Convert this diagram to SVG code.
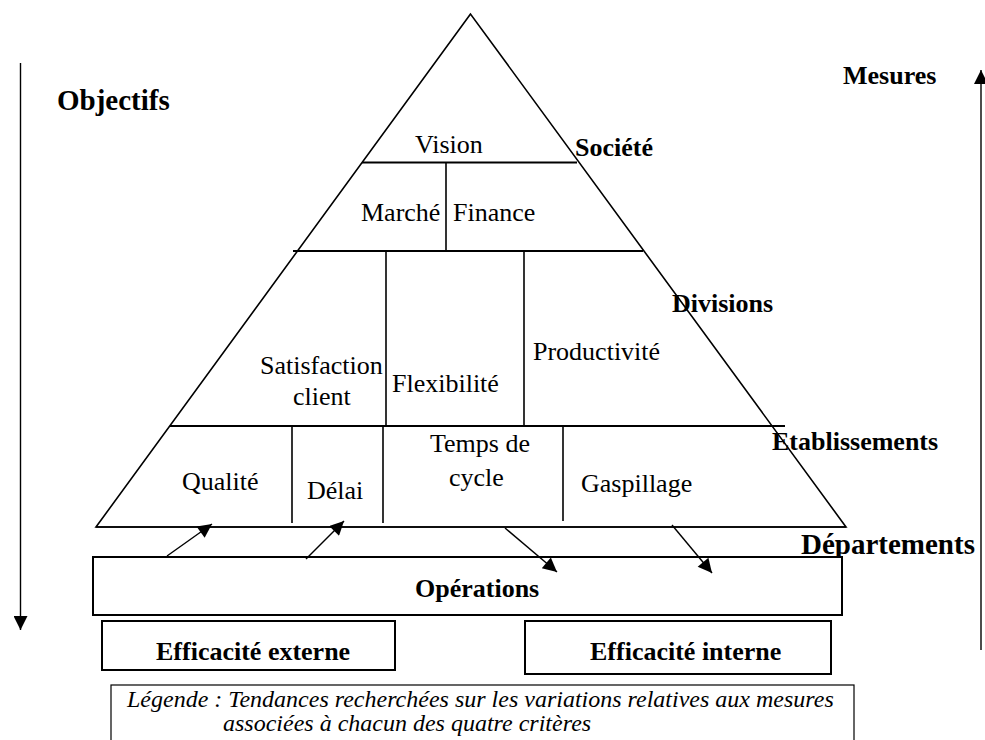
<svg xmlns="http://www.w3.org/2000/svg" width="985" height="740" viewBox="0 0 985 740">
<defs>
<style>
.ln{stroke:#000;stroke-width:1.6;fill:none}
.dv{stroke:#000;stroke-width:2;fill:none}
.bx{stroke:#000;stroke-width:2;fill:#fff}
text{font-family:'Liberation Serif','Times New Roman','DejaVu Serif',serif;fill:#000}
.t{font-size:26px}
.b{font-size:26px;font-weight:bold}
.i{font-size:24px;font-style:italic}
.ar{stroke:#000;stroke-width:1.4;fill:none}
</style>
<marker id="ah" viewBox="0 0 10 10" refX="10" refY="5" markerWidth="17" markerHeight="14" markerUnits="userSpaceOnUse" orient="auto">
<path d="M0,0 L10,5 L0,10 z" fill="#000"/>
</marker>
<marker id="ahb" viewBox="0 0 10 10" refX="10" refY="5" markerWidth="17" markerHeight="14" markerUnits="userSpaceOnUse" orient="auto">
<path d="M0,0 L10,5 L0,10 z" fill="#000"/>
</marker>
</defs>
<rect width="985" height="740" fill="#fff"/>

<g id="pyramid">
<polygon class="ln" points="470.5,14 96,527 846,527"/>
<line class="dv" x1="362" y1="162.5" x2="577" y2="162.5"/>
<line class="dv" x1="293" y1="251" x2="643" y2="251"/>
<line class="dv" x1="170" y1="426" x2="785" y2="426"/>
<line class="ln" x1="96" y1="527" x2="846" y2="527"/>
</g>

<g id="vision"><text class="t" x="415" y="153">Vision</text></g>
<g id="marche"><line class="ln" x1="446" y1="162.5" x2="446" y2="251"/><text class="t" x="361" y="221">Marché</text></g>
<g id="finance"><text class="t" x="453" y="221">Finance</text></g>
<g id="satisfaction"><text class="t" x="260" y="374">Satisfaction</text><text class="t" x="293" y="405">client</text></g>
<g id="flexibilite"><line class="ln" x1="386" y1="251" x2="386" y2="426"/><text class="t" x="392" y="392">Flexibilité</text></g>
<g id="productivite"><line class="ln" x1="524" y1="251" x2="524" y2="426"/><text class="t" x="533" y="360">Productivité</text></g>
<g id="qualite"><text class="t" x="182" y="490">Qualité</text></g>
<g id="delai"><line class="ln" x1="292" y1="427" x2="292" y2="523"/><line class="ln" x1="383" y1="427" x2="383" y2="523"/><text class="t" x="307" y="499">Délai</text></g>
<g id="temps"><text class="t" x="430" y="452">Temps de</text><text class="t" x="449" y="486">cycle</text></g>
<g id="gaspillage"><line class="ln" x1="563" y1="427" x2="563" y2="521"/><text class="t" x="581" y="492">Gaspillage</text></g>

<g id="levels">
<text class="b" x="575" y="156">Société</text>
<text class="b" x="672" y="312">Divisions</text>
<text class="b" x="772" y="450">Etablissements</text>
<text class="b" x="801" y="554" style="font-size:29px">Départements</text>
</g>

<g id="objectifs"><text class="b" x="57" y="110" style="font-size:29px">Objectifs</text></g>
<g id="mesures"><text class="b" x="843" y="84">Mesures</text></g>

<g id="operations"><rect class="bx" x="93" y="557" width="749" height="58"/><text class="b" x="415" y="597">Opérations</text></g>
<g id="eff-externe"><rect class="bx" x="102" y="621" width="293" height="49"/><text class="b" x="156" y="660">Efficacité externe</text></g>
<g id="eff-interne"><rect class="bx" x="525" y="621" width="306" height="53"/><text class="b" x="590" y="660">Efficacité interne</text></g>
<g id="legende"><rect x="111" y="685" width="743" height="70" fill="#fff" stroke="#000" stroke-width="1.2"/>
<text class="i" x="127" y="707">Légende : Tendances recherchées sur les variations relatives aux mesures</text>
<text class="i" x="223" y="731">associées à chacun des quatre critères</text></g>

<g id="connectors">
<line class="ar" x1="167" y1="556" x2="212" y2="524" marker-end="url(#ah)"/>
<line class="ar" x1="306" y1="559" x2="344" y2="521" marker-end="url(#ah)"/>
<line class="ar" x1="505" y1="528" x2="557" y2="572" marker-end="url(#ah)"/>
<line class="ar" x1="672" y1="525" x2="712" y2="573" marker-end="url(#ah)"/>
<line class="ar" x1="20.5" y1="63" x2="20.5" y2="630" stroke-width="2" marker-end="url(#ahb)"/>
<line class="ar" x1="981" y1="650" x2="981" y2="70" stroke-width="2" marker-end="url(#ahb)"/>
</g>
</svg>
